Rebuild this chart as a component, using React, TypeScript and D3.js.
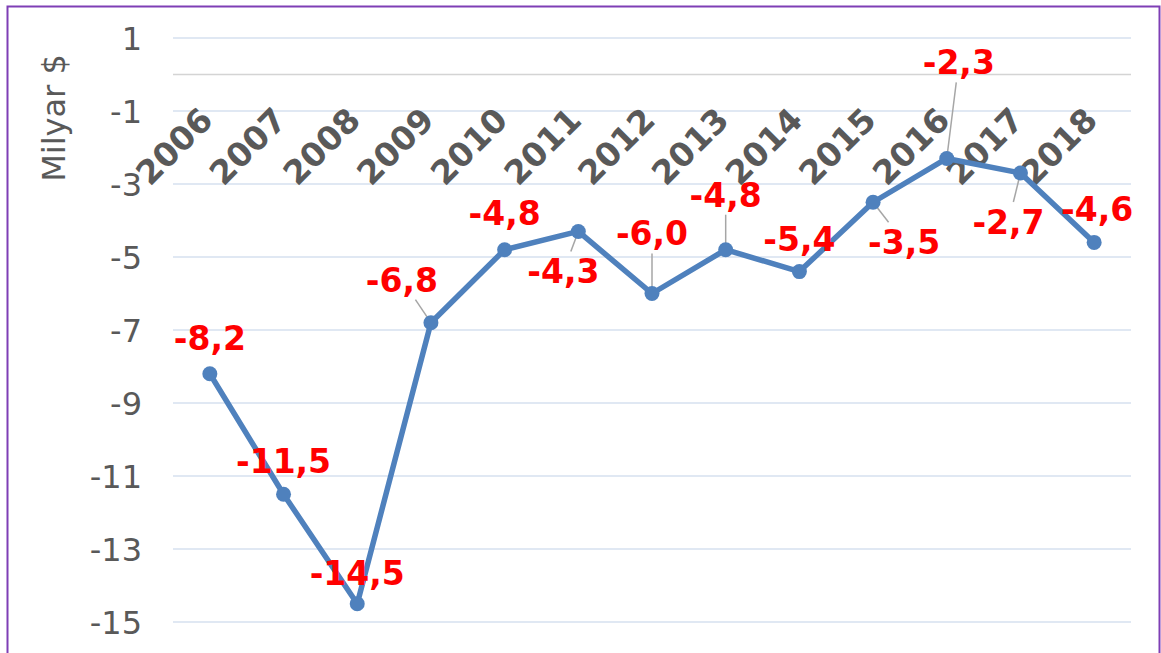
import { useEffect, useRef } from "react";
import * as d3 from "d3";

// chart data
const years = ["2006", "2007", "2008", "2009", "2010", "2011", "2012", "2013", "2014", "2015", "2016", "2017", "2018"];
const balance = [-8.2, -11.5, -14.5, -6.8, -4.8, -4.3, -6.0, -4.8, -5.4, -3.5, -2.3, -2.7, -4.6];
const yTicks = [1, -1, -3, -5, -7, -9, -11, -13, -15];

// where each data label sits relative to its point (px), and whether it gets a leader line
const labelOffsets: [number, number][] = [
  [0, -36], [0, -33], [0, -31], [-29, -43], [0, -37], [-15, 40], [0, -60],
  [0, -55], [0, -32], [31, 40], [12, -96], [-12, 49], [3, -33],
];
const leaders = [false, false, false, true, false, true, true, true, false, true, true, true, false];

const App = () => {
  const svgRef = useRef<SVGSVGElement>(null);

  useEffect(() => {
    if (!svgRef.current) return;
    const svg = d3.select(svgRef.current);
    svg.selectAll("*").remove();

    const width = 1161;
    const height = 653;
    const font = "'DejaVu Sans', Verdana, sans-serif";

    const x = d3.scaleBand<string>().domain(years).range([173, 1131]);
    const y = d3.scaleLinear().domain([-15, 1]).range([622, 38]);
    const cx = (d: string) => (x(d) ?? 0) + x.bandwidth() / 2;

    svg.attr("width", width).attr("height", height);

    // outer border
    svg
      .append("rect")
      .attr("x", 7.5)
      .attr("y", 6.5)
      .attr("width", 1152)
      .attr("height", 700)
      .attr("fill", "#fff")
      .attr("stroke", "#7e3fb5")
      .attr("stroke-width", 2);

    // grid
    svg
      .append("g")
      .selectAll("line")
      .data(yTicks)
      .join("line")
      .attr("x1", 173)
      .attr("x2", 1131)
      .attr("y1", (d) => y(d))
      .attr("y2", (d) => y(d))
      .attr("stroke", "#d6e0ef")
      .attr("stroke-width", 1.5);

    // zero line (category axis)
    svg
      .append("line")
      .attr("x1", 173)
      .attr("x2", 1131)
      .attr("y1", y(0))
      .attr("y2", y(0))
      .attr("stroke", "#d4d4d4")
      .attr("stroke-width", 1.5);

    // y tick labels
    svg
      .append("g")
      .selectAll("text")
      .data(yTicks)
      .join("text")
      .attr("x", 142)
      .attr("y", (d) => y(d))
      .attr("dy", "0.36em")
      .attr("text-anchor", "end")
      .attr("font-family", font)
      .attr("font-size", 32)
      .attr("fill", "#595959")
      .text((d) => String(d));

    // y title
    svg
      .append("text")
      .attr("transform", "translate(65,118) rotate(-90)")
      .attr("text-anchor", "middle")
      .attr("font-family", font)
      .attr("font-size", 32)
      .attr("fill", "#595959")
      .text("Milyar $");

    // year labels
    svg
      .append("g")
      .selectAll("text")
      .data(years)
      .join("text")
      .attr("transform", (d) => `translate(${cx(d) + 5},122) rotate(-45)`)
      .attr("text-anchor", "end")
      .attr("font-family", font)
      .attr("font-weight", "bold")
      .attr("font-size", 33)
      .attr("fill", "#595959")
      .text((d) => d);

    const pts = years.map((d, i) => ({ x: cx(d), y: y(balance[i]), v: balance[i], i }));

    // line
    const line = d3
      .line<{ x: number; y: number }>()
      .x((d) => d.x)
      .y((d) => d.y);

    svg
      .append("path")
      .datum(pts)
      .attr("fill", "none")
      .attr("stroke", "#4f81bd")
      .attr("stroke-width", 5.5)
      .attr("stroke-linejoin", "round")
      .attr("d", line);

    // leader lines
    pts.forEach((p) => {
      if (!leaders[p.i]) return;
      const [dx, dy] = labelOffsets[p.i];
      const lx = p.x + dx;
      const ly = p.y + dy;
      const hw = 40;
      const hh = 20;
      const t = Math.min(Math.abs(dx) > 0 ? hw / Math.abs(dx) : 1, Math.abs(dy) > 0 ? hh / Math.abs(dy) : 1);
      svg
        .append("line")
        .attr("x1", lx - dx * t)
        .attr("y1", ly - dy * t)
        .attr("x2", p.x)
        .attr("y2", p.y)
        .attr("stroke", "#a6a6a6")
        .attr("stroke-width", 1.5);
    });

    // markers
    svg
      .append("g")
      .selectAll("circle")
      .data(pts)
      .join("circle")
      .attr("cx", (d) => d.x)
      .attr("cy", (d) => d.y)
      .attr("r", 7.5)
      .attr("fill", "#4f81bd");

    // data labels
    svg
      .append("g")
      .selectAll("text")
      .data(pts)
      .join("text")
      .attr("x", (d) => d.x + labelOffsets[d.i][0])
      .attr("y", (d) => d.y + labelOffsets[d.i][1])
      .attr("dy", "0.36em")
      .attr("text-anchor", "middle")
      .attr("font-family", font)
      .attr("font-weight", "bold")
      .attr("font-size", 33)
      .attr("fill", "#ff0000")
      .text((d) => d3.format(".1f")(d.v).replace(".", ",").replace("−", "-"));
  }, []);

  return (
    <div style={{ position: "fixed", left: 0, top: 0 }}>
      <svg ref={svgRef}></svg>
    </div>
  );
};

export default App;
